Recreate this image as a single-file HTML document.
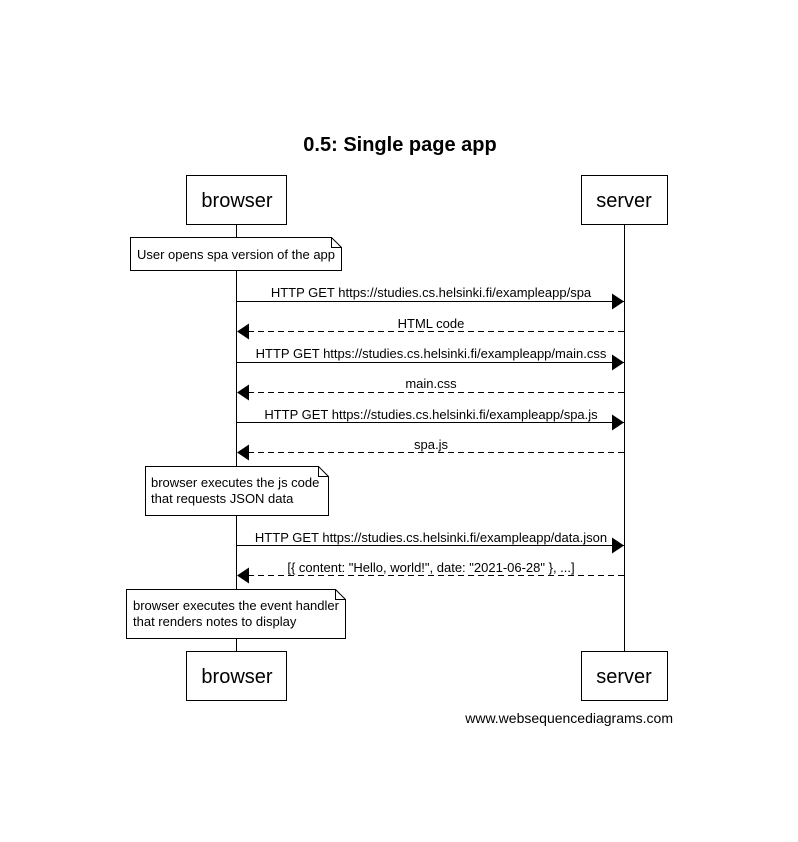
<!DOCTYPE html>
<html><head><style>body{margin:0;background:#fff}svg{display:block}text{font-family:"Liberation Sans",Arial,sans-serif;fill:#000}</style></head>
<body>
<svg width="798" height="842" viewBox="0 0 798 842" xmlns="http://www.w3.org/2000/svg">
<defs>
<marker id="ah" markerWidth="12" markerHeight="16" refX="12" refY="8" orient="auto" markerUnits="userSpaceOnUse"><path d="M0,0 L12,8 L0,16 Z" fill="#000"/></marker>
</defs>
<text x="400" y="151" font-size="20" font-weight="bold" text-anchor="middle">0.5: Single page app</text>
<g stroke="#000" fill="none" stroke-width="1">
<line x1="236.5" y1="224" x2="236.5" y2="651"/>
<line x1="624.5" y1="224" x2="624.5" y2="651"/>
<rect x="186.5" y="175.5" width="100" height="49" fill="#fff"/>
<rect x="581.5" y="175.5" width="86" height="49" fill="#fff"/>
<rect x="186.5" y="651.5" width="100" height="49" fill="#fff"/>
<rect x="581.5" y="651.5" width="86" height="49" fill="#fff"/>
<path d="M130.5,237.5 H331.5 L341.5,247.5 V270.5 H130.5 Z M331.5,237.5 V247.5 H341.5" fill="#fff"/>
<path d="M145.5,466.5 H318.5 L328.5,476.5 V515.5 H145.5 Z M318.5,466.5 V476.5 H328.5" fill="#fff"/>
<path d="M126.5,589.5 H335.5 L345.5,599.5 V638.5 H126.5 Z M335.5,589.5 V599.5 H345.5" fill="#fff"/>
<line x1="236" y1="301.5" x2="624" y2="301.5" marker-end="url(#ah)"/>
<line x1="624" y1="331.5" x2="237" y2="331.5" stroke-dasharray="6,4" marker-end="url(#ah)"/>
<line x1="236" y1="362.5" x2="624" y2="362.5" marker-end="url(#ah)"/>
<line x1="624" y1="392.5" x2="237" y2="392.5" stroke-dasharray="6,4" marker-end="url(#ah)"/>
<line x1="236" y1="422.5" x2="624" y2="422.5" marker-end="url(#ah)"/>
<line x1="624" y1="452.5" x2="237" y2="452.5" stroke-dasharray="6,4" marker-end="url(#ah)"/>
<line x1="236" y1="545.5" x2="624" y2="545.5" marker-end="url(#ah)"/>
<line x1="624" y1="575.5" x2="237" y2="575.5" stroke-dasharray="6,4" marker-end="url(#ah)"/>
</g>
<g font-size="20" text-anchor="middle">
<text x="237" y="207">browser</text><text x="624" y="207">server</text>
<text x="237" y="683">browser</text><text x="624" y="683">server</text>
</g>
<g font-size="13">
<text x="137" y="259">User opens spa version of the app</text>
<text x="151" y="487">browser executes the js code</text>
<text x="151" y="503">that requests JSON data</text>
<text x="133" y="610">browser executes the event handler</text>
<text x="133" y="626">that renders notes to display</text>
</g>
<g font-size="13" text-anchor="middle">
<text x="431" y="297">HTTP GET https://studies.cs.helsinki.fi/exampleapp/spa</text>
<text x="431" y="328">HTML code</text>
<text x="431" y="358">HTTP GET https://studies.cs.helsinki.fi/exampleapp/main.css</text>
<text x="431" y="388">main.css</text>
<text x="431" y="419">HTTP GET https://studies.cs.helsinki.fi/exampleapp/spa.js</text>
<text x="431" y="449">spa.js</text>
<text x="431" y="542">HTTP GET https://studies.cs.helsinki.fi/exampleapp/data.json</text>
<text x="431" y="572">[{ content: "Hello, world!", date: "2021-06-28" }, ...]</text>
</g>
<text x="673" y="723" font-size="14" text-anchor="end">www.websequencediagrams.com</text>
</svg>
</body></html>
